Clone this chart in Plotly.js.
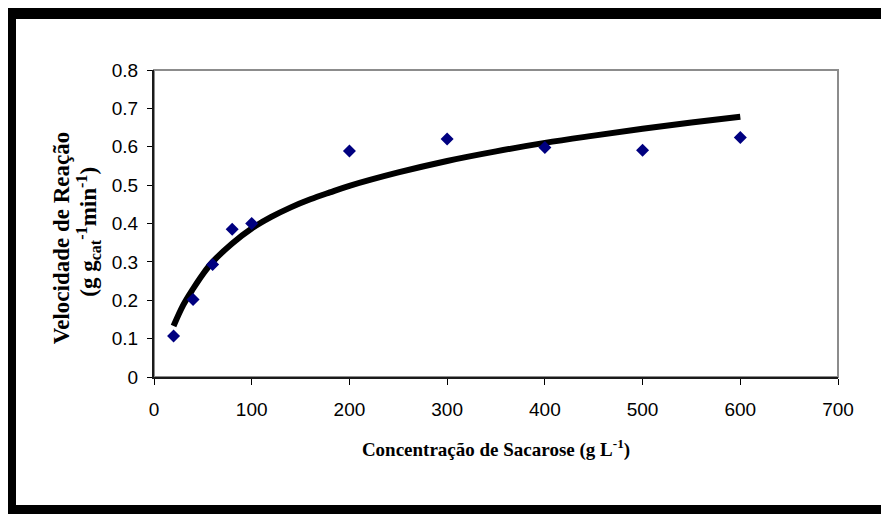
<!DOCTYPE html>
<html>
<head>
<meta charset="utf-8">
<script src="https://cdn.plot.ly/plotly-3.0.1.min.js"></script>
<style>
  html, body { margin: 0; padding: 0; background: #fff; }
  #wrap { position: relative; width: 881px; height: 514px; overflow: hidden; }
  #chart { position: absolute; left: 0; top: 0; width: 881px; height: 514px; }
  .bar { position: absolute; background: #000; }
</style>
</head>
<body>
<div id="wrap">
  <div id="chart"></div>
  <div class="bar" style="left:8px; top:8px; width:873px; height:11px;"></div>
  <div class="bar" style="left:8px; top:8px; width:8px; height:506px;"></div>
  <div class="bar" style="left:8px; top:505px; width:873px; height:9px;"></div>
</div>
<script>
// Measured data (diamonds)
const concentracao = [20, 40, 60, 80, 100, 200, 300, 400, 500, 600];
const velocidade   = [0.107, 0.202, 0.293, 0.385, 0.400, 0.589, 0.620, 0.598, 0.591, 0.624];

// Fitted curve
const curvaX = [20, 30, 40, 50, 60, 80, 100, 120, 140, 160, 180, 200, 250, 300, 350, 400, 450, 500, 550, 600];
const curvaY = [0.133, 0.188, 0.230, 0.268, 0.300, 0.348, 0.387, 0.417, 0.442, 0.463, 0.481, 0.498, 0.533, 0.563, 0.588, 0.610, 0.629, 0.647, 0.663, 0.678];

// Axis titles
const tituloX = '<b>Concentração de Sacarose (g L<sup>-1</sup>)</b>';
const tituloY1 = '<b>Velocidade de Reação</b>';
const tituloY2 = '<b>(g g<sub>cat</sub><sup>-1</sup>min<sup>-1</sup>)</b>';

const traces = [
  {
    x: curvaX, y: curvaY, type: 'scatter', mode: 'lines',
    line: { color: '#000000', width: 6, shape: 'spline', smoothing: 1.0 },
    hoverinfo: 'skip', showlegend: false
  },
  {
    x: concentracao, y: velocidade, type: 'scatter', mode: 'markers',
    marker: { symbol: 'diamond', size: 10, color: '#000080' },
    showlegend: false
  }
];

const tickFont = { family: 'Liberation Sans, Arial, sans-serif', size: 19, color: '#000' };
const serif = 'Liberation Serif, Times New Roman, serif';

const layout = {
  width: 881, height: 514,
  margin: { l: 154, r: 43, t: 70, b: 137 },
  paper_bgcolor: '#ffffff', plot_bgcolor: '#ffffff',
  showlegend: false,
  xaxis: {
    range: [0, 700], tick0: 0, dtick: 100,
    showgrid: false, zeroline: false,
    showline: true, linecolor: '#1a1a1a', linewidth: 2,
    ticks: 'outside', ticklen: 6, tickwidth: 1, tickcolor: '#000',
    tickfont: tickFont, ticklabelstandoff: 8,
    title: { text: tituloX, font: { family: serif, size: 19, color: '#000' }, standoff: 24 }
  },
  yaxis: {
    range: [0, 0.8], tick0: 0, dtick: 0.1,
    showgrid: false, zeroline: false,
    showline: true, linecolor: '#1a1a1a', linewidth: 2,
    ticks: 'outside', ticklen: 5, tickwidth: 1, tickcolor: '#000',
    tickfont: tickFont, ticklabelstandoff: 5
  },
  annotations: [
    { text: tituloY1, xref: 'paper', yref: 'paper', x: -0.136, y: 0.455,
      xanchor: 'center', yanchor: 'middle', textangle: -90, showarrow: false,
      font: { family: serif, size: 23, color: '#000' } },
    { text: tituloY2, xref: 'paper', yref: 'paper', x: -0.097, y: 0.472,
      xanchor: 'center', yanchor: 'middle', textangle: -90, showarrow: false,
      font: { family: serif, size: 23, color: '#000' } }
  ],
  shapes: [
    { type: 'rect', xref: 'paper', yref: 'paper', x0: 0, x1: 1, y0: 0, y1: 1,
      line: { color: '#8c8c8c', width: 2 }, layer: 'below' }
  ]
};

Plotly.newPlot('chart', traces, layout, { staticPlot: true, displayModeBar: false });
</script>
</body>
</html>
